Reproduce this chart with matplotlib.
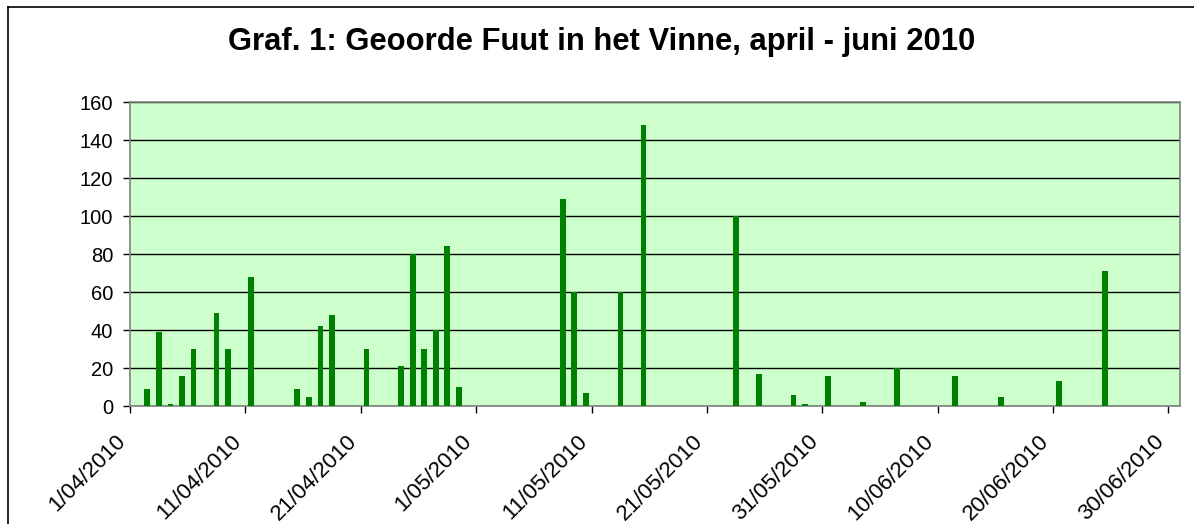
import pandas as pd
import matplotlib
matplotlib.use("Agg")
import matplotlib.pyplot as plt
from matplotlib.lines import Line2D

plt.rcParams['font.family'] = ['Liberation Sans', 'DejaVu Sans']

# counts of Geoorde Fuut per observation date
dates = [
    "2010-04-02", "2010-04-03", "2010-04-04", "2010-04-05", "2010-04-06",
    "2010-04-08", "2010-04-09", "2010-04-11", "2010-04-15", "2010-04-16",
    "2010-04-17", "2010-04-18", "2010-04-21", "2010-04-24", "2010-04-25",
    "2010-04-26", "2010-04-27", "2010-04-28", "2010-04-29",
    "2010-05-08", "2010-05-09", "2010-05-10", "2010-05-13", "2010-05-15",
    "2010-05-23", "2010-05-25", "2010-05-28", "2010-05-29", "2010-05-31",
    "2010-06-03", "2010-06-06", "2010-06-11", "2010-06-15", "2010-06-20",
    "2010-06-24",
]
counts = [
    9, 39, 1, 16, 30,
    49, 30, 68, 9, 5,
    42, 48, 30, 21, 80,
    30, 40, 84, 10,
    109, 60, 7, 60, 148,
    100, 17, 6, 1, 16,
    2, 20, 16, 5, 13,
    71,
]
tick_dates = ["2010-04-01", "2010-04-11", "2010-04-21", "2010-05-01", "2010-05-11",
              "2010-05-21", "2010-05-31", "2010-06-10", "2010-06-20", "2010-06-30"]
tick_labels = ["1/04/2010", "11/04/2010", "21/04/2010", "1/05/2010", "11/05/2010",
               "21/05/2010", "31/05/2010", "10/06/2010", "20/06/2010", "30/06/2010"]

W, H = 1194, 524
fig = plt.figure(figsize=(W / 100, H / 100), dpi=100)
ax = fig.add_axes([130 / W, 1 - 406 / H, 1050 / W, 304 / H])

# bars sit in the middle of each day slot
x = pd.to_datetime(dates) + pd.Timedelta(hours=12)
ax.bar(x, counts, width=0.5, color='#008000', zorder=3)

ax.set_facecolor('#CCFFCC')
ax.set_ylim(0, 160)
ax.set_yticks(range(0, 161, 20))
ax.set_xlim(pd.Timestamp("2010-04-01"), pd.Timestamp("2010-07-01"))
ax.set_xticks(pd.to_datetime(tick_dates))
ax.set_xticklabels(tick_labels, rotation=45, ha='right', fontsize=16)
ax.grid(axis='y', color='black', linewidth=1, zorder=1)
ax.set_axisbelow(True)

for s in ax.spines.values():
    s.set_color('#808080')
    s.set_linewidth(1.2)
ax.tick_params(axis='both', direction='out', length=5, width=1, color='black',
               labelcolor='black')
ax.tick_params(axis='y', pad=7, labelsize=14.5)
ax.tick_params(axis='x', pad=13)

fig.text(602 / W, 1 - 42 / H, "Graf. 1: Geoorde Fuut in het Vinne, april - juni 2010",
         ha='center', va='center', fontsize=22.3, fontweight='bold')

# outer chart frame
fig.add_artist(Line2D([8 / W, 8 / W], [0, 1 - 7 / H], transform=fig.transFigure,
                      color='black', linewidth=1.2))
fig.add_artist(Line2D([8 / W, 1], [1 - 7 / H, 1 - 7 / H], transform=fig.transFigure,
                      color='black', linewidth=1.2))

fig.savefig("out.png", dpi=100, facecolor='white')
